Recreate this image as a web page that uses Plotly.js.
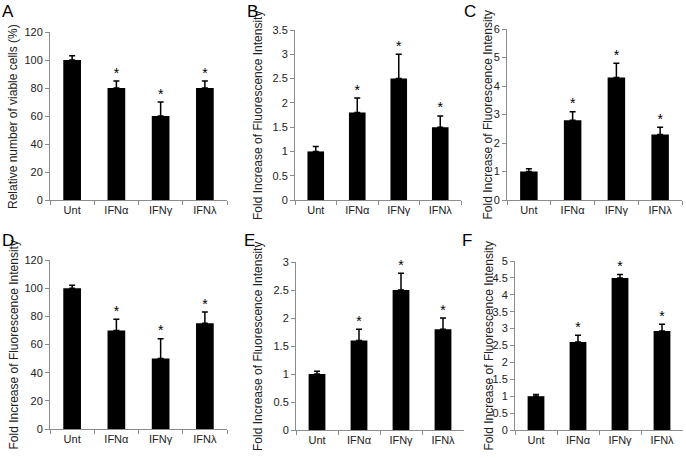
<!DOCTYPE html>
<html><head><meta charset="utf-8">
<script src="https://cdn.plot.ly/plotly-3.0.1.min.js"></script>
<style>body{margin:0;background:#fff}#c{width:686px;height:458px}</style>
</head><body><div id="c"></div>
<script>
const categories = ["Unt", "IFNα", "IFNγ", "IFNλ"];
const starred = [false, true, true, true];

const valuesA = [100, 80, 60, 80];
const errorsA = [3, 5, 10, 5];
const valuesB = [1, 1.8, 2.5, 1.5];
const errorsB = [0.1, 0.3, 0.5, 0.23];
const valuesC = [1, 2.8, 4.3, 2.3];
const errorsC = [0.1, 0.3, 0.5, 0.25];
const valuesD = [100, 70, 50, 75];
const errorsD = [2, 8, 14, 8];
const valuesE = [1, 1.6, 2.5, 1.8];
const errorsE = [0.05, 0.2, 0.3, 0.2];
const valuesF = [1, 2.6, 4.5, 2.93];
const errorsF = [0.05, 0.2, 0.1, 0.2];

const panelLabels = ["A", "B", "C", "D", "E", "F"];
const yTitles = [
  "Relative number of viable cells (%)",
  "Fold Increase of Fluorescence Intensity",
  "Fold Increase of Fluorescence Intensity",
  "Fold Increase of Fluorescence Intensity",
  "Fold Increase of Fluorescence Intensity",
  "Fold Increase of Fluorescence Intensity"
];
const yRanges = [[0,120],[0,3.5],[0,6],[0,120],[0,3],[0,5]];
const yDtick = [20, 0.5, 1, 20, 0.5, 0.5];

const series = [
  [valuesA, errorsA], [valuesB, errorsB], [valuesC, errorsC],
  [valuesD, errorsD], [valuesE, errorsE], [valuesF, errorsF]
];

const W = 686, H = 458;
// pixel layout of each panel: [xLeft, xRight, yZero, yTop, titleX, labelX, labelY]
const px = [
  [50, 227, 200, 32, 13, 8, 12],
  [295, 461, 200, 30, 258, 252, 12],
  [507, 682, 200, 29, 488, 470, 12],
  [50, 227, 429, 260, 13, 8, 240],
  [296, 464, 430, 262, 258, 250, 240],
  [515, 683, 430, 261, 488, 467, 240]
];

const font = "Liberation Sans, Arial, sans-serif";
const axColor = "#8c8c8c";
const traces = [];
const layout = {
  width: W, height: H,
  margin: {l:0, r:0, t:0, b:0},
  paper_bgcolor: "#fff", plot_bgcolor: "#fff",
  showlegend: false,
  font: {family: font, color: "#222", size: 11},
  annotations: []
};

series.forEach((s, i) => {
  const n = i === 0 ? "" : String(i + 1);
  const xa = "x" + n, ya = "y" + n;
  const [vals, errs] = s;
  traces.push({
    type: "bar", x: categories, y: vals, xaxis: xa, yaxis: ya,
    width: 0.4, marker: {color: "#000"},
    error_y: {type: "data", symmetric: false, array: errs,
      arrayminus: errs.map(() => 0), color: "#000", thickness: 1.5, width: 3},
    hoverinfo: "skip"
  });
  const sx = [], sy = [];
  categories.forEach((c, k) => { if (starred[k]) { sx.push(c); sy.push(vals[k] + errs[k]); } });
  traces.push({
    type: "scatter", mode: "text", x: sx, y: sy, xaxis: xa, yaxis: ya,
    text: sx.map(() => "*"), textposition: "top center",
    textfont: {family: font, size: 14, color: "#000"},
    hoverinfo: "skip", cliponaxis: false
  });
  const p = px[i];
  layout["xaxis" + n] = {
    domain: [p[0] / W, p[1] / W], anchor: ya,
    showline: true, linecolor: axColor, linewidth: 1,
    ticks: "outside", tickson: "boundaries", ticklen: 4, tickcolor: axColor,
    showgrid: false, zeroline: false, fixedrange: true,
    tickfont: {family: font, size: 11, color: "#222"}
  };
  layout["yaxis" + n] = {
    domain: [1 - p[2] / H, 1 - p[3] / H], anchor: xa,
    range: yRanges[i], dtick: yDtick[i], tick0: 0,
    showline: true, linecolor: axColor, linewidth: 1,
    ticks: "outside", ticklen: 4, tickcolor: axColor,
    showgrid: false, zeroline: false, fixedrange: true,
    tickfont: {family: font, size: 11, color: "#222"}
  };
  layout.annotations.push({
    text: yTitles[i], xref: "paper", yref: "paper",
    x: p[4] / W, y: 1 - ((p[2] + p[3]) / 2 + 1) / H,
    textangle: -90, showarrow: false, xanchor: "center", yanchor: "middle",
    font: {family: font, size: 12, color: "#222"}
  });
  layout.annotations.push({
    text: panelLabels[i], xref: "paper", yref: "paper",
    x: p[5] / W, y: 1 - p[6] / H, showarrow: false,
    xanchor: "center", yanchor: "middle",
    font: {family: font, size: 17, color: "#000"}
  });
});

Plotly.newPlot("c", traces, layout, {displayModeBar: false, staticPlot: true});
</script></body></html>
